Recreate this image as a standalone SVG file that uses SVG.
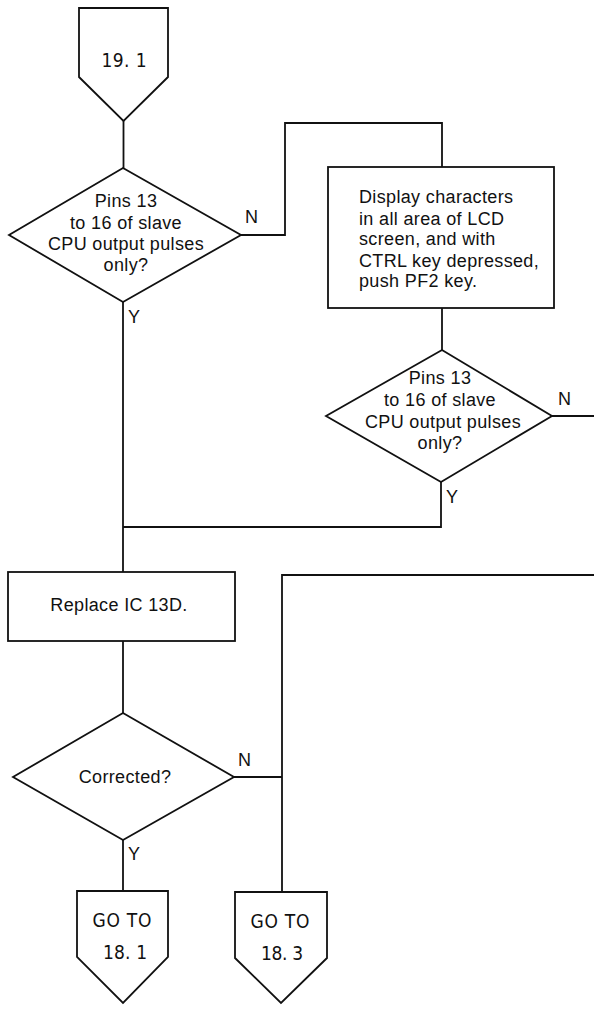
<svg xmlns="http://www.w3.org/2000/svg" width="594" height="1009" viewBox="0 0 594 1009">
<style>
.s{fill:#fff;stroke:#111;stroke-width:1.8;stroke-linejoin:miter}
.c{fill:none;stroke:#111;stroke-width:1.8}
.t{font-family:"Liberation Sans",Arial,sans-serif;font-size:18px;letter-spacing:0.35px;fill:#111}
.m{text-anchor:middle}
.n{font-family:"Liberation Sans Narrow","DejaVu Sans Condensed","Liberation Sans",sans-serif;font-size:19px;fill:#111;text-anchor:middle}
</style>
<rect width="594" height="1009" fill="#fff"/>
<g id="connectors">
<path class="c" d="M123.5,121 V168"/>
<path class="c" d="M241,235 H285 V123 H442 V167"/>
<path class="c" d="M442,308 V350"/>
<path class="c" d="M552,416 H594"/>
<path class="c" d="M123,302 V572"/>
<path class="c" d="M441,482 V527 H123"/>
<path class="c" d="M123,641 V713"/>
<path class="c" d="M123,840 V891"/>
<path class="c" d="M234,777 H282"/>
<path class="c" d="M594,575 H282 V892"/>
<text class="t" x="245" y="223">N</text>
<text class="t" x="128" y="323">Y</text>
<text class="t" x="558" y="405">N</text>
<text class="t" x="446" y="503">Y</text>
<text class="t" x="238" y="766">N</text>
<text class="t" x="128" y="860">Y</text>
</g>
<g id="start">
<polygon class="s" points="79,8 168,8 168,77 123.5,121 79,77"/>
<text class="n" x="124" y="67" textLength="45">19. 1</text>
</g>
<g id="decision1">
<polygon class="s" points="123,168 241,235 123,302 9,235"/>
<text class="t m" x="126" y="207">Pins 13</text>
<text class="t m" x="126" y="229">to 16 of slave</text>
<text class="t m" x="126" y="250">CPU output pulses</text>
<text class="t m" x="126" y="271">only?</text>
</g>
<g id="display">
<rect class="s" x="328" y="167" width="226" height="141"/>
<text class="t" x="359" y="203">Display characters</text>
<text class="t" x="359" y="225">in all area of LCD</text>
<text class="t" x="359" y="245">screen, and with</text>
<text class="t" x="359" y="267">CTRL key depressed,</text>
<text class="t" x="359" y="287">push PF2 key.</text>
</g>
<g id="decision2">
<polygon class="s" points="442,350 552,416 441,482 326,416"/>
<text class="t m" x="440" y="384">Pins 13</text>
<text class="t m" x="440" y="406">to 16 of slave</text>
<text class="t m" x="443" y="428">CPU output pulses</text>
<text class="t m" x="440" y="449">only?</text>
</g>
<g id="replace">
<rect class="s" x="8" y="572" width="227" height="69"/>
<text class="t m" x="119" y="611">Replace IC 13D.</text>
</g>
<g id="corrected">
<polygon class="s" points="123,713 234,777 123,840 13,777"/>
<text class="t m" x="125" y="783">Corrected?</text>
</g>
<g id="goto181">
<polygon class="s" points="77,891 168,891 168,957 123,1003 77,957"/>
<text class="n" x="122" y="927" textLength="59">GO TO</text>
<text class="n" x="125" y="959" textLength="44">18. 1</text>
</g>
<g id="goto183">
<polygon class="s" points="235,892 327,892 327,958 281,1003 235,958"/>
<text class="n" x="280" y="928" textLength="59">GO TO</text>
<text class="n" x="282" y="960" textLength="42">18. 3</text>
</g>
</svg>
